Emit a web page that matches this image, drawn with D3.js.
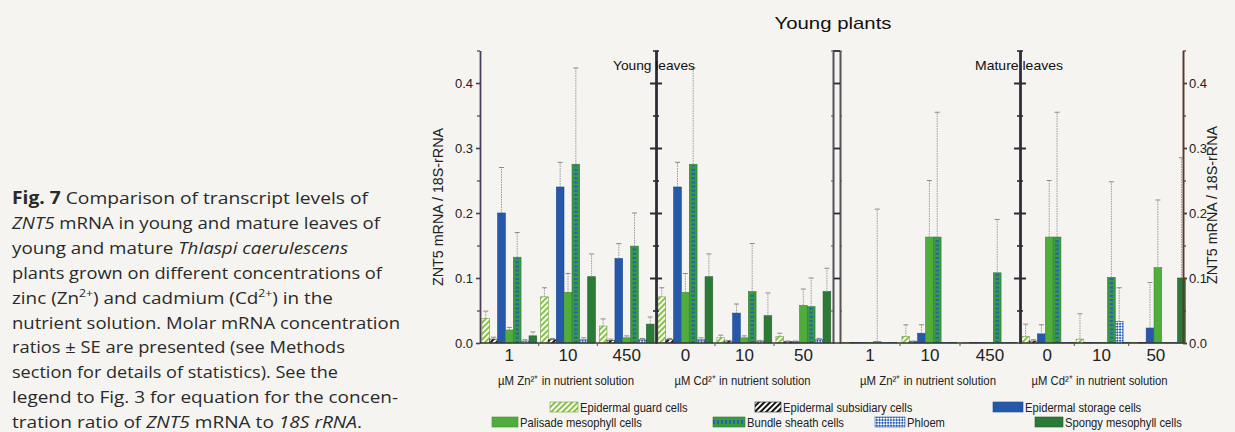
<!DOCTYPE html>
<html><head><meta charset="utf-8">
<script src="https://cdn.jsdelivr.net/npm/d3@7"></script>
<style>body{margin:0;background:#f5f4f0;} svg{display:block}</style>
</head><body><svg id="c" width="1235" height="432"></svg>
<script>
// ---- data ----
const sectionNames = ["Young leaves Zn","Young leaves Cd","Mature leaves Zn","Mature leaves Cd"];
const concLabels = [["1","10","450"],["0","10","50"],["1","10","450"],["0","10","50"]];
const cellTypes = ["guard","subsidiary","storage","palisade","bundle","phloem","spongy"];
const cellNames = ["Epidermal guard cells","Epidermal subsidiary cells","Epidermal storage cells","Palisade mesophyll cells","Bundle sheath cells","Phloem","Spongy mesophyll cells"];
const xTitles = ["µM Zn²⁺ in nutrient solution","µM Cd²⁺ in nutrient solution","µM Zn²⁺ in nutrient solution","µM Cd²⁺ in nutrient solution"];
const yTicks = [0.0,0.1,0.2,0.3,0.4];
// 12 categories: young Zn 1,10,450 | young Cd 0,10,50 | mature Zn 1,10,450 | mature Cd 0,10,50
const guard      = [0.038,0.071,0.026,0.071,0.008,0.010,0.001,0.010,0.001,0.010,0.006,0.001];
const guardSE    = [0.011,0.014,0.011,0.014,0.004,0.005,0,0.018,0,0.019,0.039,0];
const subsidiary = [0.006,0.005,0.004,0.005,0.003,0.002,0.001,0.002,0.001,0.003,0.001,0.001];
const subsidiarySE=[0.003,0.002,0.002,0.002,0.001,0.001,0,0.001,0,0.002,0,0];
const storage    = [0.200,0.240,0.130,0.240,0.046,0.002,0.001,0.015,0.001,0.014,0.001,0.023];
const storageSE  = [0.070,0.038,0.023,0.038,0.014,0.001,0,0.013,0,0.014,0,0.070];
const palisade   = [0.020,0.078,0.008,0.078,0.008,0.058,0.001,0.163,0.001,0.163,0.001,0.116];
const palisadeSE = [0.004,0.029,0.003,0.029,0.003,0.025,0,0.087,0,0.087,0,0.104];
const bundle     = [0.132,0.275,0.149,0.275,0.079,0.056,0.002,0.163,0.108,0.163,0.101,0.001];
const bundleSE   = [0.038,0.148,0.051,0.148,0.074,0.044,0.204,0.192,0.082,0.192,0.147,0];
const phloem     = [0.003,0.005,0.005,0.005,0.003,0.005,0.001,0.001,0.001,0.001,0.033,0.001];
const phloemSE   = [0.002,0.003,0.002,0.003,0.001,0.002,0,0,0,0,0.052,0];
const spongy     = [0.011,0.102,0.029,0.102,0.042,0.079,0.001,0.001,0.001,0.001,0.001,0.100];
const spongySE   = [0.006,0.035,0.011,0.035,0.035,0.036,0,0,0,0,0,0.185];

const means = {guard, subsidiary, storage, palisade, bundle, phloem, spongy};
const ses = {guard:guardSE, subsidiary:subsidiarySE, storage:storageSE, palisade:palisadeSE, bundle:bundleSE, phloem:phloemSE, spongy:spongySE};

// ---- layout ----
const svg = d3.select("#c");
const defs = svg.append("defs");
function stripe(id, color){
  const p = defs.append("pattern").attr("id",id).attr("patternUnits","userSpaceOnUse")
    .attr("width",4).attr("height",4).attr("patternTransform","rotate(45)");
  p.append("rect").attr("width",4).attr("height",4).attr("fill","#fff");
  p.append("rect").attr("width",2).attr("height",4).attr("fill",color);
}
stripe("pGuard","#86c440");
stripe("pSub","#151515");
{
  const p = defs.append("pattern").attr("id","pPhl").attr("patternUnits","userSpaceOnUse")
    .attr("width",4).attr("height",4).attr("patternTransform","rotate(45)");
  p.append("rect").attr("width",4).attr("height",4).attr("fill","#fff");
  p.append("rect").attr("width",2).attr("height",2).attr("fill","#2a62b8");
  p.append("rect").attr("x",2).attr("y",2).attr("width",2).attr("height",2).attr("fill","#2a62b8");
}
const fills = {guard:"url(#pGuard)",subsidiary:"url(#pSub)",storage:"#2558a8",palisade:"#50ad3c",bundle:"#3a9a40",phloem:"url(#pPhl)",spongy:"#2c7a38"};
const strokes = {guard:"#6f9f45",subsidiary:"#222",storage:"#1d4a90",palisade:"#3f9030",bundle:"#2e7d34",phloem:"#2a5ab0",spongy:"#235f2c"};

const y = d3.scaleLinear().domain([0,0.45]).range([343,50.5]);
const sectionRanges = [[480,656],[656,833],[840,1020],[1020,1183]];
const bands = sectionRanges.map((r,s)=>d3.scaleBand().domain(concLabels[s].map((d,i)=>i)).range(r).paddingInner(0.06).paddingOuter(0.03));
const cellBand = d3.scaleBand().domain(cellTypes).range([0,bands[0].bandwidth()]).padding(0.02);

const font = "'Liberation Sans', Arial, sans-serif";
const narrow = "'Liberation Sans Narrow', 'Liberation Sans', Arial, sans-serif";

// ---- bars ----
const gBars = svg.append("g");
const gErr = svg.append("g");
for (let j=0;j<12;j++){
  const s = Math.floor(j/3), k = j%3;
  const x0 = bands[s](k);
  cellTypes.forEach(ct=>{
    const v = means[ct][j], se = ses[ct][j];
    const bx = x0 + cellBand(ct), bw = cellBand.bandwidth();
    gBars.append("rect").attr("x",bx).attr("y",y(v)).attr("width",bw).attr("height",y(0)-y(v))
      .attr("fill",fills[ct]).attr("stroke",strokes[ct]).attr("stroke-width",0.6);
    if (ct==="bundle" && v>0.01){
      gBars.append("line").attr("x1",bx+bw/2).attr("x2",bx+bw/2).attr("y1",y(0)).attr("y2",y(v)+1)
        .attr("stroke","#2a60b5").attr("stroke-width",bw*0.45).attr("stroke-dasharray","2,2.2");
    }
    if (se>0){
      const cx = bx+bw/2;
      gErr.append("line").attr("x1",cx).attr("x2",cx).attr("y1",y(v)).attr("y2",y(v+se))
        .attr("stroke","#9a9a9a").attr("stroke-width",1).attr("stroke-dasharray","1.5,1");
      gErr.append("line").attr("x1",cx-2.5).attr("x2",cx+2.5).attr("y1",y(v+se)).attr("y2",y(v+se))
        .attr("stroke","#8a8a8a").attr("stroke-width",1);
    }
  });
}

// ---- axes ----
const minorTicks = [0.05,0.15,0.25,0.35,0.45];
function styleAxis(g,color,w){ g.selectAll("path,line").attr("stroke",color).attr("stroke-width",w); g.selectAll("text").attr("fill","#222").style("font-family",font).style("font-size","13px"); }
// left
let g = svg.append("g").attr("transform","translate(480,0)").call(d3.axisLeft(y).tickValues(yTicks).tickFormat(d3.format(".1f")).tickSize(4).tickSizeOuter(0).tickPadding(3));
styleAxis(g,"#4b3b5b",1.6);
g = svg.append("g").attr("transform","translate(480,0)").call(d3.axisLeft(y).tickValues(minorTicks).tickFormat("").tickSize(3).tickSizeOuter(0));
styleAxis(g,"#4b3b5b",1.2);
// right
g = svg.append("g").attr("transform","translate(1183,0)").call(d3.axisRight(y).tickValues(yTicks).tickFormat(d3.format(".1f")).tickSize(4).tickSizeOuter(0).tickPadding(2));
styleAxis(g,"#5a3a30",1.8);
g = svg.append("g").attr("transform","translate(1183,0)").call(d3.axisRight(y).tickValues(minorTicks).tickFormat("").tickSize(3).tickSizeOuter(0));
styleAxis(g,"#5a3a30",1.2);
// middle axes (656, 1020)
[656,1020].forEach(xp=>{
  [d3.axisLeft, d3.axisRight].forEach(ax=>{
    let a = svg.append("g").attr("transform",`translate(${xp},0)`).call(ax(y).tickValues(yTicks.slice(1)).tickFormat("").tickSize(6).tickSizeOuter(0));
    styleAxis(a,"#2e2a3a",2);
    a = svg.append("g").attr("transform",`translate(${xp},0)`).call(ax(y).tickValues(minorTicks).tickFormat("").tickSize(3).tickSizeOuter(0));
    styleAxis(a,"#2e2a3a",1.6);
  });
});
// double axis (833 / 840)
{
  let a = svg.append("g").attr("transform","translate(833,0)").call(d3.axisRight(y).tickValues(yTicks.slice(1).concat([0.45])).tickFormat("").tickSize(7).tickSizeOuter(0));
  styleAxis(a,"#2e2a3a",1.8);
  a = svg.append("g").attr("transform","translate(840,0)").call(d3.axisRight(y).tickValues([]).tickFormat("").tickSizeOuter(0));
  styleAxis(a,"#2e2a3a",1.8);
  a = svg.append("g").attr("transform","translate(833,0)").call(d3.axisLeft(y).tickValues(minorTicks).tickFormat("").tickSize(2).tickSizeOuter(0));
  styleAxis(a,"#555",1);
  a = svg.append("g").attr("transform","translate(840,0)").call(d3.axisRight(y).tickValues(minorTicks).tickFormat("").tickSize(2).tickSizeOuter(0));
  styleAxis(a,"#555",1);
}
// baseline + category labels
svg.append("line").attr("x1",480).attr("x2",1183).attr("y1",y(0)).attr("y2",y(0)).attr("stroke","#3a3a3a").attr("stroke-width",1.4);
bands.forEach((b,s)=>{
  const a = svg.append("g").attr("transform",`translate(0,${y(0)})`)
    .call(d3.axisBottom(b).tickFormat(i=>concLabels[s][i]).tickSize(0).tickPadding(6));
  a.select(".domain").remove();
  a.selectAll("text").attr("fill","#222").style("font-family",font).style("font-size","17px");
  const st = b.step();
  [1,2].forEach(i=>{
    const xb = b(i) - st*b.paddingInner()/2;
    svg.append("line").attr("x1",xb).attr("x2",xb).attr("y1",y(0)).attr("y2",y(0)+3).attr("stroke","#555").attr("stroke-width",1);
  });
  const r = sectionRanges[s];
  svg.append("text").attr("x",(r[0]+r[1])/2 - 2).attr("y",385).attr("text-anchor","middle")
    .style("font-family",narrow).style("font-size","13.5px").attr("fill","#222")
    .attr("textLength",136).attr("lengthAdjust","spacingAndGlyphs").text(xTitles[s]);
});

// y labels
[[443,207],[1217,205]].forEach(([xc,yc])=>{
  svg.append("text").attr("transform",`translate(${xc},${yc}) rotate(-90)`).attr("text-anchor","middle")
    .style("font-family",font).style("font-size","14px").attr("fill","#222")
    .attr("textLength",158).attr("lengthAdjust","spacingAndGlyphs").text("ZNT5 mRNA / 18S-rRNA");
});

// titles
svg.append("text").attr("x",833).attr("y",29).attr("text-anchor","middle").style("font-family",font).style("font-size","17px")
  .attr("fill","#111").attr("textLength",117).attr("lengthAdjust","spacingAndGlyphs").text("Young plants");
svg.append("text").attr("x",654).attr("y",70).attr("text-anchor","middle").style("font-family",font).style("font-size","13px")
  .attr("fill","#111").attr("textLength",82).attr("lengthAdjust","spacingAndGlyphs").text("Young leaves");
svg.append("text").attr("x",1019).attr("y",70).attr("text-anchor","middle").style("font-family",font).style("font-size","13px")
  .attr("fill","#111").attr("textLength",88).attr("lengthAdjust","spacingAndGlyphs").text("Mature leaves");

// legend
const legendPos = {
  guard:[550,578,402], subsidiary:[755,781,402], storage:[993,1023,402],
  palisade:[492,518,417], bundle:[713,745,417], phloem:[875,905,417], spongy:[1035,1063,417]
};
cellTypes.forEach((ct,i)=>{
  const [x1,x2,yy] = legendPos[ct];
  svg.append("rect").attr("x",x1).attr("y",yy).attr("width",x2-x1).attr("height",10)
    .attr("fill",fills[ct]).attr("stroke",strokes[ct]).attr("stroke-width",0.6);
  if(ct==="bundle") svg.append("line").attr("x1",x1).attr("x2",x2).attr("y1",yy+5).attr("y2",yy+5)
    .attr("stroke","#2a60b5").attr("stroke-width",4).attr("stroke-dasharray","2,2");
  const t = svg.append("text").attr("x",x2+2).attr("y",yy+9.5).style("font-family",narrow).style("font-size","13px").attr("fill","#222")
    .text(cellNames[i]);
  const len = t.node().getComputedTextLength();
  t.attr("textLength",len*0.86).attr("lengthAdjust","spacingAndGlyphs");
});

// caption
const capLines = [
  [[["b","Fig. 7"],["n"," Comparison of transcript levels of"]],356],
  [[["i","ZNT5"],["n"," mRNA in young and mature leaves of"]],368],
  [[["n","young and mature "],["i","Thlaspi caerulescens"]],336],
  [[["n","plants grown on different concentrations of"]],370],
  [[["n","zinc (Zn"],["s","2+"],["n",") and cadmium (Cd"],["s","2+"],["n",") in the"]],321],
  [[["n","nutrient solution. Molar mRNA concentration"]],388],
  [[["n","ratios ± SE are presented (see Methods"]],333],
  [[["n","section for details of statistics). See the"]],326],
  [[["n","legend to Fig. 3 for equation for the concen-"]],386],
  [[["n","tration ratio of "],["i","ZNT5"],["n"," mRNA to "],["i","18S rRNA"],["n","."]],350]
];
capLines.forEach(([parts,tl],i)=>{
  const t = svg.append("text").attr("x",12).attr("y",204+24.9*i).style("font-family","'Open Sans','Noto Sans',sans-serif")
    .style("font-size","17px").attr("fill","#2a2a2a").attr("textLength",tl).attr("lengthAdjust","spacingAndGlyphs");
  let up=false;
  parts.forEach(([k,txt])=>{
    const sp = t.append("tspan").text(txt);
    if(k==="b") sp.style("font-weight","bold");
    if(k==="i") sp.style("font-style","italic");
    if(k==="s"){ sp.style("font-size","11px").attr("dy",-7); up=true; }
    else if(up){ sp.attr("dy",7); up=false; }
  });
});
</script>
</body></html>
